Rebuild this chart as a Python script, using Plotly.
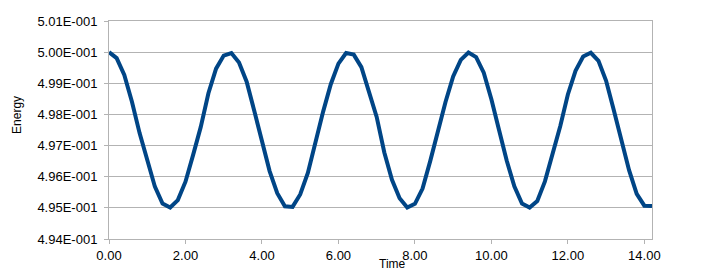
import plotly.graph_objects as go

# Data
time = [round(0.2 * i, 1) for i in range(72)]
energy = [
    0.50000, 0.49981, 0.49927, 0.49841, 0.49740, 0.49654, 0.49568, 0.49514,
    0.49501, 0.49525, 0.49584, 0.49670, 0.49760, 0.49868, 0.49947, 0.49989,
    0.49997, 0.49967, 0.49905, 0.49811, 0.49716, 0.49618, 0.49547, 0.49505,
    0.49503, 0.49543, 0.49612, 0.49712, 0.49809, 0.49897, 0.49963, 0.49997,
    0.49992, 0.49952, 0.49869, 0.49792, 0.49678, 0.49590, 0.49531, 0.49501,
    0.49513, 0.49562, 0.49650, 0.49746, 0.49840, 0.49922, 0.49975, 0.49999,
    0.49984, 0.49934, 0.49849, 0.49750, 0.49652, 0.49569, 0.49514, 0.49501,
    0.49522, 0.49585, 0.49673, 0.49762, 0.49864, 0.49940, 0.49986, 0.49998,
    0.49972, 0.49908, 0.49814, 0.49718, 0.49621, 0.49545, 0.49507, 0.49506,
]

y_tickvals = [0.494, 0.495, 0.496, 0.497, 0.498, 0.499, 0.500, 0.501]
y_ticktext = ["4.94E-001", "4.95E-001", "4.96E-001", "4.97E-001",
              "4.98E-001", "4.99E-001", "5.00E-001", "5.01E-001"]
x_tickvals = [0, 2, 4, 6, 8, 10, 12, 14]

font_family = "Liberation Sans, Arial, sans-serif"
grid_col = "#b3b3b3"

fig = go.Figure()
fig.add_trace(go.Scatter(
    x=time, y=energy, mode="lines",
    line=dict(color="#004586", width=4),
    showlegend=False, hoverinfo="skip",
))

fig.update_layout(
    width=703, height=276,
    margin=dict(l=109, r=51, t=21, b=37),
    paper_bgcolor="white", plot_bgcolor="white",
    font=dict(family=font_family, size=13, color="#000000"),
    xaxis=dict(
        range=[0, 14.2], tickvals=x_tickvals, tickformat=".2f",
        showgrid=False, zeroline=False,
        showline=True, linecolor=grid_col, linewidth=1, mirror=True,
        ticks="outside", ticklen=4, tickcolor=grid_col,
        tickfont=dict(size=13, family=font_family, color="#000000"),
    ),
    yaxis=dict(
        range=[0.494, 0.501], tickvals=y_tickvals, ticktext=y_ticktext,
        showgrid=True, gridcolor=grid_col, gridwidth=1, zeroline=False,
        showline=True, linecolor=grid_col, linewidth=1, mirror=True,
        ticks="outside", ticklen=4, tickcolor=grid_col,
        ticklabelstandoff=4,
        tickfont=dict(size=13, family=font_family, color="#000000"),
    ),
    annotations=[
        dict(text="Time", xref="paper", yref="paper", x=0.5225, y=0,
             yshift=-25, xanchor="center", yanchor="middle", showarrow=False,
             font=dict(size=12, family=font_family, color="#000000")),
        dict(text="Energy", xref="paper", yref="paper", x=0, y=0.569,
             xshift=-92, xanchor="center", yanchor="middle", showarrow=False,
             textangle=-90,
             font=dict(size=12, family=font_family, color="#000000")),
    ],
)

fig.write_html("out.html")
